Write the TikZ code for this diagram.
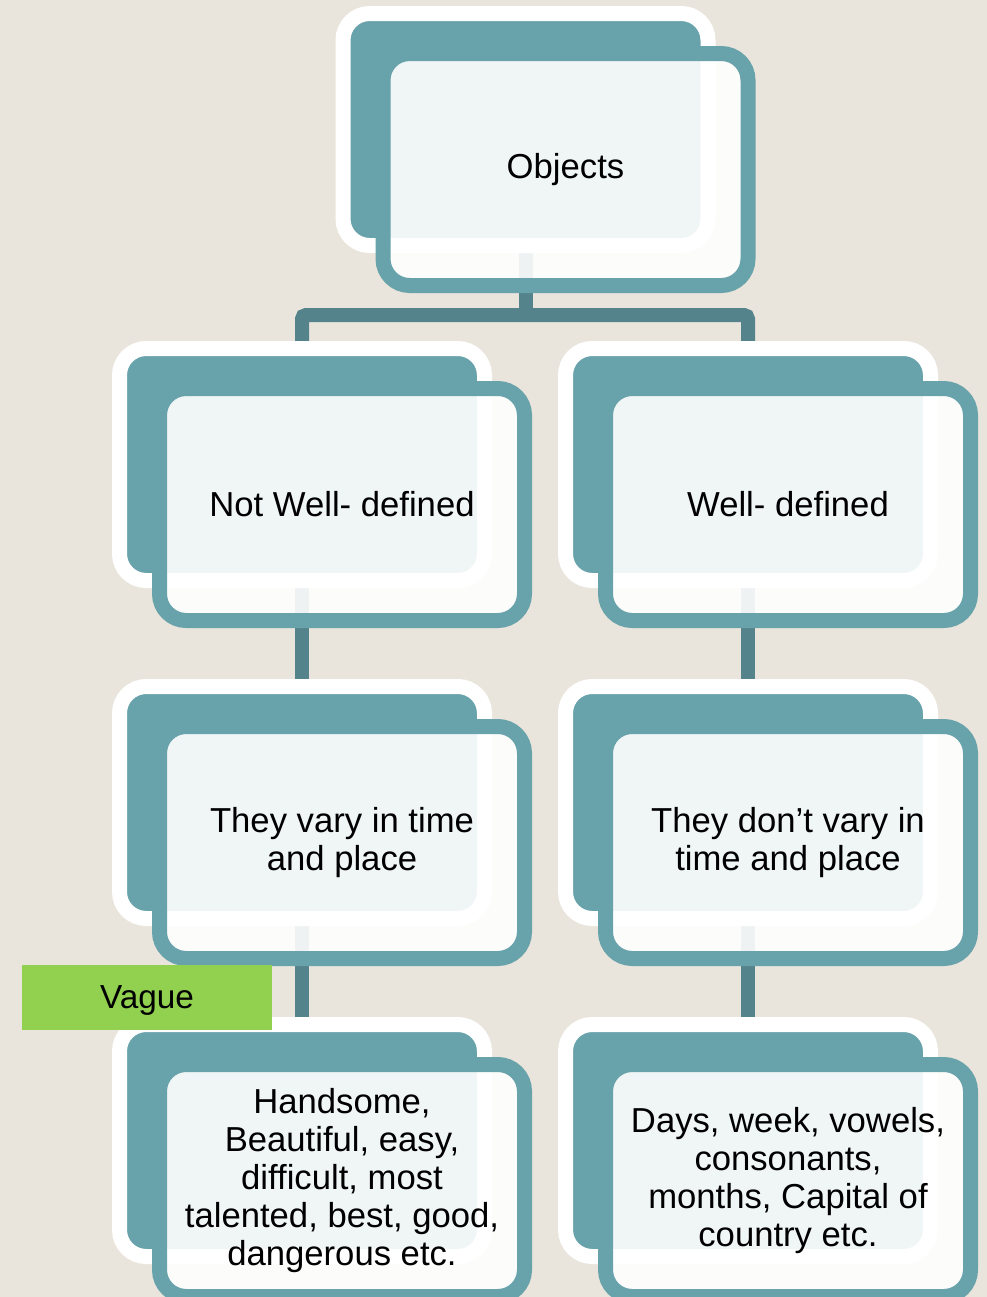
\documentclass[tikz,border=0pt]{standalone}
\usepackage{fontspec}
\setmainfont{Liberation Sans}
\usetikzlibrary{calc}
\definecolor{sand}{HTML}{EAE5DC}
\definecolor{tealbox}{HTML}{68A2AB}
\definecolor{teallink}{HTML}{55838C}
\definecolor{leafgreen}{HTML}{92D050}
\pgfdeclarelayer{bg}
\pgfdeclarelayer{links}
\pgfsetlayers{bg,links,main}
\tikzset{
  backbox/.style={rectangle,rounded corners=20pt,fill=tealbox,draw=white,line width=11.25pt,
    minimum width=273.75pt,minimum height=174pt},
  frontbox/.style={rectangle,rounded corners=20pt,fill=white,fill opacity=0.9,text opacity=1,
    draw=tealbox,line width=11.25pt,minimum width=273.75pt,minimum height=174pt,
    align=center,inner sep=0pt,font=\fontsize{26}{28.5}\selectfont},
  link/.style={draw=teallink,line width=10.5pt},
  tag/.style={fill=leafgreen,minimum width=187.5pt,minimum height=48.75pt,inner sep=0pt,
    text depth=0pt,font=\fontsize{25}{28}\selectfont}
}
\begin{document}
\begin{tikzpicture}[x=0.75pt,y=-0.75pt]
\useasboundingbox (0,0) rectangle (987,1297);
\begin{pgfonlayer}{bg}
  \fill[sand] (0,0) rectangle (987,1297);
\end{pgfonlayer}

% boxes: back card + front card
\foreach \n/\x/\y/\t in
  {0/525.5/129.5/{Objects},
   1/302/464.5/{Not Well- defined},
   2/748/464.5/{Well- defined},
   3/302/802.5/{They vary in time\\ and place},
   4/748/802.5/{They don’t vary in\\ time and place},
   5/302/1140.5/{Handsome,\\ Beautiful, easy,\\ difficult, most\\ talented, best, good,\\ dangerous etc.},
   6/748/1140.5/{Days, week, vowels,\\ consonants,\\ months, Capital of\\ country etc.}}
{
  \node[backbox] (back\n) at (\x,\y) {};
  \node[frontbox] (front\n) at ($(back\n)+(40,40)$) {\t};
}

\node[tag] (vague) at (147,997.5) {Vague};

\coordinate (split) at (525.5,315);
\begin{pgfonlayer}{links}
  \draw[link] (back0.south) -- (split);
  \draw[link,rounded corners=3pt] (back1.north) |- (split) -| (back2.north);
  \draw[link] (back1.south) -- (back3.north);
  \draw[link] (back2.south) -- (back4.north);
  \draw[link] (back3.south) -- (back5.north);
  \draw[link] (back4.south) -- (back6.north);
\end{pgfonlayer}
\end{tikzpicture}
\end{document}
